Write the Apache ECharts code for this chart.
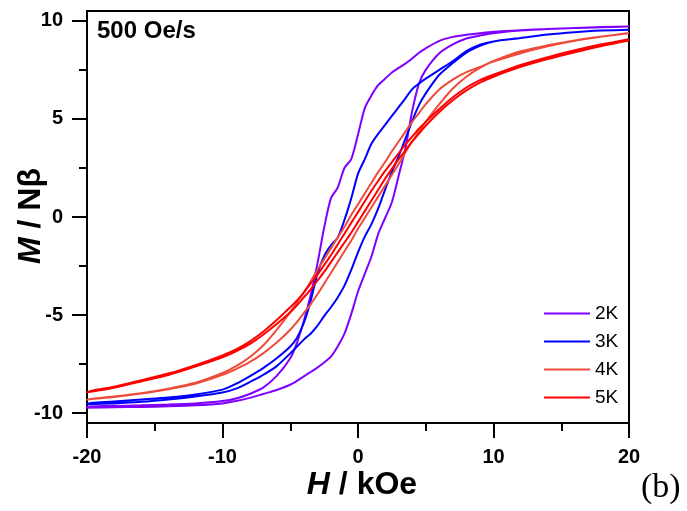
<!DOCTYPE html>
<html>
<head>
<meta charset="utf-8">
<script src="https://cdn.jsdelivr.net/npm/echarts@6/dist/echarts.min.js"></script>
<style>
html,body{margin:0;padding:0;background:#fff;}
#chart{width:687px;height:511px;}
</style>
</head>
<body>
<div id="chart"></div>
<script>
// Field grid (kOe), shared by all branches
const H = [-20,-18,-16,-14,-12,-10,-9,-8,-7,-6,-5,-4.5,-4,-3.5,-3,-2.5,-2,-1.5,-1,-0.5,0,0.5,1,1.5,2,2.5,3,3.5,4,4.5,5,6,7,8,9,10,12,14,16,18,20];

// Descending branches (field swept from +20 to -20), values listed at H grid
const M2K_down = [-9.66,-9.63,-9.6,-9.56,-9.5,-9.38,-9.25,-9.02,-8.7,-8.1,-7.2,-6.4,-5.3,-4.0,-2.4,-0.55,0.95,1.5,2.5,2.95,4.2,5.55,6.2,6.73,7.05,7.37,7.6,7.82,8.08,8.37,8.6,8.98,9.18,9.29,9.37,9.44,9.52,9.58,9.63,9.68,9.71];
const M3K_down = [-9.5,-9.4,-9.3,-9.2,-9.05,-8.8,-8.5,-8.12,-7.7,-7.2,-6.6,-6.15,-5.4,-4.3,-2.9,-2.0,-1.45,-1.05,-0.15,0.95,2.2,2.95,3.75,4.25,4.7,5.15,5.6,6.05,6.52,6.8,7.05,7.5,7.95,8.45,8.78,8.95,9.12,9.3,9.42,9.5,9.55];
const M4K_down = [-9.3,-9.15,-8.98,-8.75,-8.45,-7.95,-7.6,-7.15,-6.55,-5.75,-4.85,-4.35,-3.85,-3.3,-2.7,-2.15,-1.6,-1.05,-0.5,0.1,0.65,1.2,1.75,2.3,2.8,3.35,3.85,4.35,4.85,5.3,5.75,6.5,7.0,7.38,7.65,7.92,8.35,8.7,8.98,9.2,9.38];
const M5K_down = [-8.93,-8.65,-8.32,-7.98,-7.55,-7.05,-6.75,-6.35,-5.85,-5.25,-4.6,-4.25,-3.85,-3.4,-2.95,-2.45,-1.95,-1.4,-0.85,-0.3,0.25,0.8,1.35,1.85,2.35,2.8,3.25,3.7,4.1,4.5,4.85,5.5,6.1,6.6,6.98,7.25,7.75,8.15,8.5,8.8,9.06];

// Ascending branches (field swept from -20 to +20), values listed at H grid
const M2K_up = [-9.72,-9.7,-9.68,-9.65,-9.6,-9.5,-9.38,-9.22,-9.02,-8.82,-8.55,-8.35,-8.12,-7.9,-7.68,-7.42,-7.12,-6.6,-5.95,-4.95,-3.8,-2.9,-2.0,-0.85,-0.05,0.75,2.1,3.5,5.4,6.8,7.5,8.35,8.8,9.1,9.25,9.37,9.5,9.58,9.63,9.67,9.7];
const M3K_up = [-9.55,-9.5,-9.42,-9.3,-9.15,-8.95,-8.75,-8.42,-8.05,-7.6,-6.95,-6.6,-6.25,-5.95,-5.55,-5.05,-4.6,-4.1,-3.5,-2.7,-1.8,-1.0,-0.35,0.45,1.4,2.3,3.1,4.0,4.9,5.7,6.3,7.25,7.85,8.38,8.72,8.95,9.12,9.3,9.42,9.5,9.55];
const M4K_up = [-9.33,-9.18,-9.0,-8.78,-8.5,-8.05,-7.75,-7.4,-6.95,-6.4,-5.75,-5.35,-4.9,-4.45,-3.95,-3.4,-2.85,-2.3,-1.75,-1.2,-0.6,-0.05,0.5,1.05,1.6,2.15,2.7,3.3,3.85,4.35,4.85,5.75,6.55,7.15,7.6,7.95,8.45,8.75,9.0,9.2,9.37];
const M5K_up = [-8.96,-8.7,-8.38,-8.05,-7.62,-7.15,-6.85,-6.48,-6.0,-5.45,-4.85,-4.5,-4.1,-3.7,-3.25,-2.8,-2.3,-1.8,-1.3,-0.8,-0.25,0.3,0.85,1.4,1.95,2.45,2.95,3.4,3.85,4.25,4.65,5.35,5.95,6.45,6.85,7.15,7.65,8.05,8.4,8.72,9.0];

const seriesNames = ['2K','3K','4K','5K'];
const seriesColors = ['#8000FF','#0000FF','#EE4B3A','#FF0000'];
const xTicks = [-20,-10,0,10,20];
const yMajorTicks = [-10,-5,0,5,10];
const yMinorTicks = [-7.5,-2.5,2.5,7.5];

function loop(down, up){
  const d = [];
  for (let i = H.length - 1; i >= 0; i--) d.push([H[i], down[i]]);
  for (let i = 0; i < H.length; i++) d.push([H[i], up[i]]);
  return d;
}
const loops = [loop(M2K_down,M2K_up), loop(M3K_down,M3K_up), loop(M4K_down,M4K_up), loop(M5K_down,M5K_up)];

const FONT = '"Liberation Sans", Arial, sans-serif';
const chart = echarts.init(document.getElementById('chart'), null, {renderer:'canvas'});
chart.setOption({
  animation:false,
  backgroundColor:'#fff',
  grid:{left:87,right:58,top:11,bottom:88,show:true,borderColor:'#000',borderWidth:2,backgroundColor:'transparent'},
  xAxis:{
    type:'value',min:xTicks[0],max:xTicks[xTicks.length-1],interval:10,
    axisLine:{show:true,onZero:false,lineStyle:{color:'#000',width:2}},
    axisTick:{show:true,inside:false,length:15,lineStyle:{color:'#000',width:2}},
    minorTick:{show:true,splitNumber:2,length:8,lineStyle:{color:'#000',width:2}},
    axisLabel:{color:'#000',fontSize:20,fontWeight:'bold',fontFamily:FONT,margin:24},
    splitLine:{show:false}
  },
  yAxis:[{
    type:'value',min:-10.5,max:10.5,position:'left',offset:0,
    axisLine:{show:true,onZero:false,lineStyle:{color:'#000',width:2}},
    axisTick:{show:true,inside:false,length:15,customValues:yMajorTicks,lineStyle:{color:'#000',width:2}},
    axisLabel:{color:'#000',fontSize:20,fontWeight:'bold',fontFamily:FONT,margin:24,customValues:yMajorTicks},
    splitLine:{show:false}
  },{
    type:'value',min:-10.5,max:10.5,position:'left',offset:0,
    axisLine:{show:false,onZero:false},
    axisTick:{show:true,inside:false,length:8,customValues:yMinorTicks,lineStyle:{color:'#000',width:2}},
    axisLabel:{show:false},
    splitLine:{show:false}
  }],
  legend:{
    orient:'vertical',left:539,top:299,itemWidth:46,itemHeight:16,itemGap:9,
    textStyle:{color:'#000',fontSize:19,fontFamily:FONT,lineHeight:16},
    data:seriesNames.map(n=>({name:n,icon:'path://M0,0 L46,0 L46,2 L0,2 Z'}))
  },
  series:seriesNames.map((n,i)=>({
    name:n,type:'line',data:loops[i],yAxisIndex:0,
    showSymbol:false,symbol:'none',smooth:0.25,clip:true,
    lineStyle:{color:seriesColors[i],width:2},itemStyle:{color:seriesColors[i]}
  })),
  graphic:[
    {type:'text',left:97,top:19,style:{text:'500 Oe/s',font:'bold 24px '+FONT,fill:'#000'}},
    {type:'text',x:362,y:485,style:{text:'{i|H} / kOe',align:'center',verticalAlign:'middle',font:'bold 32px '+FONT,fill:'#000',
      rich:{i:{fontStyle:'italic',fontWeight:'bold',fontSize:32,fontFamily:FONT,fill:'#000'}}}},
    {type:'text',x:31,y:216,rotation:Math.PI/2,style:{text:'{i|M} / Nβ',align:'center',verticalAlign:'middle',font:'bold 32px '+FONT,fill:'#000',
      rich:{i:{fontStyle:'italic',fontWeight:'bold',fontSize:32,fontFamily:FONT,fill:'#000'}}}},
    {type:'text',left:641,top:471,style:{text:'(b)',font:'34px "Liberation Serif", "Times New Roman", serif',fill:'#000'}}
  ]
});
</script>
</body>
</html>
